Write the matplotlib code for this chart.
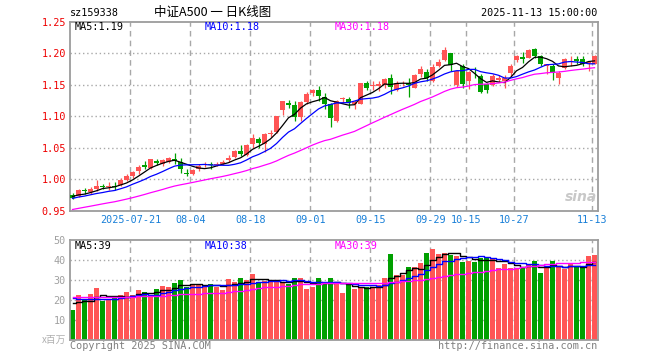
import numpy as np
import pandas as pd
import matplotlib
matplotlib.use('Agg')
import matplotlib.pyplot as plt

# 中证A500 ETF (sz159338) daily K line, 2025-07-07 .. 2025-11-13
dates = ['07-07', '07-08', '07-09', '07-10', '07-11', '07-14', '07-15', '07-16', '07-17', '07-18',
         '07-21', '07-22', '07-23', '07-24', '07-25', '07-28', '07-29', '07-30', '07-31', '08-01',
         '08-04', '08-05', '08-06', '08-07', '08-08', '08-11', '08-12', '08-13', '08-14', '08-15',
         '08-18', '08-19', '08-20', '08-21', '08-22', '08-25', '08-26', '08-27', '08-28', '08-29',
         '09-01', '09-02', '09-03', '09-04', '09-05', '09-08', '09-09', '09-10', '09-11', '09-12',
         '09-15', '09-16', '09-17', '09-18', '09-19', '09-22', '09-23', '09-24', '09-25', '09-26',
         '09-29', '09-30', '10-09', '10-10', '10-13', '10-14', '10-15', '10-16', '10-17', '10-20',
         '10-21', '10-22', '10-23', '10-24', '10-27', '10-28', '10-29', '10-30', '10-31', '11-03',
         '11-04', '11-05', '11-06', '11-07', '11-10', '11-11', '11-12', '11-13']

open_ = [0.9753, 0.9732, 0.9837, 0.9795, 0.9847, 0.9900, 0.9874, 0.9900, 0.9910, 0.9995,
         1.0060, 1.0130, 1.0226, 1.0190, 1.0294, 1.0242, 1.0280, 1.0320, 1.0280, 1.0105,
         1.0094, 1.0160, 1.0230, 1.0240, 1.0235, 1.0250, 1.0310, 1.0357, 1.0460, 1.0390,
         1.0557, 1.0650, 1.0557, 1.0715, 1.0757, 1.1109, 1.1210, 1.1185, 1.0985, 1.1230,
         1.1380, 1.1416, 1.1316, 1.1195, 1.0930, 1.1270, 1.1270, 1.1195, 1.1206, 1.1537,
         1.1490, 1.1490, 1.1500, 1.1616, 1.1420, 1.1510, 1.1537, 1.1460, 1.1668, 1.1710,
         1.1563, 1.1800, 1.1890, 1.2000, 1.1500, 1.1800, 1.1563, 1.1680, 1.1640, 1.1510,
         1.1495, 1.1584, 1.1563, 1.1684, 1.1890, 1.1947, 1.1931, 1.2073, 1.1957, 1.1805,
         1.1800, 1.1605, 1.1773, 1.1868, 1.1905, 1.1920, 1.1852, 1.1836]
high = [0.9780, 0.9847, 0.9858, 0.9884, 0.9995, 0.9926, 0.9953, 0.9953, 1.0016, 1.0084,
        1.0140, 1.0226, 1.0294, 1.0330, 1.0320, 1.0330, 1.0363, 1.0426, 1.0340, 1.0170,
        1.0160, 1.0240, 1.0280, 1.0280, 1.0270, 1.0310, 1.0390, 1.0470, 1.0540, 1.0560,
        1.0715, 1.0680, 1.0736, 1.0790, 1.1010, 1.1250, 1.1260, 1.1250, 1.1250, 1.1395,
        1.1440, 1.1490, 1.1380, 1.1220, 1.1260, 1.1310, 1.1310, 1.1260, 1.1526, 1.1560,
        1.1570, 1.1560, 1.1616, 1.1680, 1.1560, 1.1560, 1.1605, 1.1668, 1.1800, 1.1747,
        1.1840, 1.1905, 1.2105, 1.2000, 1.1737, 1.1826, 1.1720, 1.1780, 1.1668, 1.1537,
        1.1668, 1.1658, 1.1658, 1.1826, 1.1984, 1.2020, 1.2073, 1.2089, 1.1984, 1.1836,
        1.1826, 1.1720, 1.1930, 1.1957, 1.1957, 1.1957, 1.1870, 1.1980]
low = [0.9690, 0.9716, 0.9769, 0.9770, 0.9821, 0.9847, 0.9837, 0.9837, 0.9890, 0.9980,
       1.0016, 1.0084, 1.0163, 1.0174, 1.0237, 1.0216, 1.0258, 1.0242, 1.0100, 1.0050,
       1.0070, 1.0136, 1.0200, 1.0170, 1.0210, 1.0230, 1.0280, 1.0347, 1.0370, 1.0380,
       1.0494, 1.0500, 1.0440, 1.0680, 1.0740, 1.1030, 1.1140, 1.0930, 1.0930, 1.1195,
       1.1325, 1.1250, 1.1116, 1.0830, 1.0910, 1.1220, 1.1140, 1.1120, 1.1195, 1.1426,
       1.1426, 1.1405, 1.1458, 1.1350, 1.1405, 1.1480, 1.1310, 1.1450, 1.1630, 1.1560,
       1.1550, 1.1784, 1.1879, 1.1720, 1.1470, 1.1460, 1.1430, 1.1616, 1.1380, 1.1380,
       1.1484, 1.1550, 1.1447, 1.1640, 1.1868, 1.1852, 1.1921, 1.1931, 1.1800, 1.1670,
       1.1574, 1.1520, 1.1747, 1.1800, 1.1826, 1.1800, 1.1726, 1.1826]
close = [0.9711, 0.9837, 0.9810, 0.9847, 0.9900, 0.9884, 0.9900, 0.9884, 0.9995, 1.0060,
         1.0126, 1.0205, 1.0205, 1.0320, 1.0258, 1.0305, 1.0347, 1.0300, 1.0162, 1.0095,
         1.0147, 1.0210, 1.0250, 1.0225, 1.0245, 1.0280, 1.0335, 1.0460, 1.0400, 1.0540,
         1.0660, 1.0573, 1.0715, 1.0736, 1.1009, 1.1250, 1.1190, 1.0985, 1.1230, 1.1350,
         1.1415, 1.1320, 1.1195, 1.0970, 1.1240, 1.1290, 1.1210, 1.1225, 1.1526, 1.1447,
         1.1500, 1.1510, 1.1600, 1.1474, 1.1537, 1.1520, 1.1500, 1.1658, 1.1758, 1.1605,
         1.1784, 1.1863, 1.2050, 1.1810, 1.1720, 1.1520, 1.1705, 1.1668, 1.1395, 1.1420,
         1.1640, 1.1616, 1.1616, 1.1800, 1.1957, 1.1905, 1.2063, 1.1968, 1.1826, 1.1826,
         1.1695, 1.1695, 1.1905, 1.1884, 1.1880, 1.1826, 1.1868, 1.1957]
# volume, millions
volume = [15, 22.5, 20.5, 23, 26, 19.5, 20, 21.5, 22.5, 24,
          22.5, 25, 24, 22.5, 25.5, 27, 26.5, 28.5, 30, 26.5,
          27.5, 27.5, 27, 28, 26.5, 25, 30.5, 29, 31, 30,
          33, 29, 29.5, 29.5, 29, 29, 28, 31, 31, 25.5,
          26.5, 31, 28.5, 31, 28.5, 23.5, 27.5, 25.5, 26.5, 26.5,
          26.5, 27.5, 31, 43, 32.5, 32.5, 36.5, 36.5, 38.5, 43.5,
          45.5, 43, 43.5, 42.5, 42, 39, 39.5, 39, 41, 41,
          40.5, 36, 38, 36, 36, 36, 38, 39.5, 33.5, 36.5,
          39.5, 36.5, 35.5, 38, 36.7, 36.7, 42, 42.5]

# earlier sessions (June 2025), only used to warm up the moving averages
pre_close = [0.930, 0.928, 0.933, 0.936, 0.934, 0.938, 0.940, 0.937, 0.942, 0.944,
             0.946, 0.943, 0.948, 0.950, 0.952, 0.949, 0.953, 0.956, 0.955, 0.958,
             0.962, 0.966, 0.964, 0.970, 0.973, 0.971, 0.975, 0.972, 0.976]
pre_volume = [24, 19, 22, 26, 21, 18, 23, 20, 25, 22,
              19, 21, 24, 20, 22, 23, 19, 21, 24, 22,
              25, 22, 26, 23, 22.5, 20, 18, 21, 17.5]

tick_labels = ['2025-07-21', '08-04', '08-18', '09-01', '09-15', '09-29', '10-15', '10-27', '11-13']

RED = '#ff5555'
GREEN = '#00a000'
GRID = '#a8a8a8'
FRAME = '#9c9c9c'
MONO = 'DejaVu Sans Mono'
CJK = ['Noto Sans CJK SC', 'DejaVu Sans']

n = len(close)
x = np.arange(n)
o = np.array(open_)
c = np.array(close)
up = c >= o
colors = [RED if u else GREEN for u in up]

cs = pd.Series(pre_close + close)
vs = pd.Series(pre_volume + volume)
ma = {k: cs.rolling(k, min_periods=1).mean().values[-n:] for k in (5, 10, 30)}
vma = {k: vs.rolling(k, min_periods=1).mean().values[-n:] for k in (5, 10, 30)}
ma_colors = {5: 'black', 10: '#0000ff', 30: '#ff00ff'}

W, H = 660, 360
fig = plt.figure(figsize=(6.6, 3.6), dpi=100)


def fx(px):
    return px / W


def fy(py):
    return 1 - py / H


ax = fig.add_axes([fx(70), fy(211), (598 - 70) / W, (211 - 22) / H])
axv = fig.add_axes([fx(70), fy(340), (598 - 70) / W, (340 - 240) / H])

tick_idx = [dates.index(t[-5:]) for t in tick_labels]
tick_x = [i - 0.35 for i in tick_idx]
xmin, xmax = -0.42, n - 1 + 0.58

for a in (ax, axv):
    a.set_xlim(xmin, xmax)
    for s in a.spines.values():
        s.set_color(FRAME)
        s.set_linewidth(1.3)
    a.vlines(tick_x, 0, 1, transform=a.get_xaxis_transform(), colors=GRID,
             linestyles=(0, (4, 3)), lw=1, zorder=0)

# price panel
ax.set_ylim(0.95, 1.25)
yt = [0.95, 1.00, 1.05, 1.10, 1.15, 1.20, 1.25]
ax.set_yticks(yt)
ax.set_yticklabels([f'{v:.2f}' for v in yt], color='#ee0000', family=MONO, fontsize=7.3)
ax.hlines(yt[1:-1], xmin, xmax, colors=GRID, linestyles=(0, (1, 2)), lw=1, zorder=0)
ax.set_xticks(tick_x)
ax.set_xticklabels(tick_labels, color='#1a80d8', family=MONO, fontsize=7.3)
ax.tick_params(length=0, pad=3)

body = np.maximum(np.abs(c - o), 0.0012)
ax.vlines(x, low, high, colors=colors, lw=0.9, zorder=2)
ax.bar(x, body, bottom=np.minimum(o, c), width=0.8, color=colors, zorder=3)
for k in (5, 10, 30):
    ax.plot(x, ma[k], color=ma_colors[k], lw=0.9, zorder=4)

# volume panel
axv.set_ylim(0, 50)
vt = [10, 20, 30, 40, 50]
axv.set_yticks(vt)
axv.set_yticklabels([str(v) for v in vt], color='#a0a0a0', family=MONO, fontsize=7.3)
axv.hlines(vt[:-1], xmin, xmax, colors=GRID, linestyles=(0, (1, 2)), lw=1, zorder=0)
axv.set_xticks([])
axv.tick_params(length=0, pad=3)
axv.bar(x, volume, width=0.8, color=colors, zorder=2)
for k in (5, 10, 30):
    axv.plot(x, vma[k], color=ma_colors[k], lw=1, drawstyle='steps-mid', zorder=4)

# header and legends
fig.text(fx(70), fy(13), 'sz159338', family=MONO, fontsize=7.3, va='center')
fig.text(fx(213), fy(12), '中证A500 一 日K线图', family=CJK, fontsize=9, ha='center', va='center')
fig.text(fx(597), fy(13), '2025-11-13 15:00:00', family=MONO, fontsize=7.3, ha='right', va='center')

lx = [75, 205, 335]
for px, k in zip(lx, (5, 10, 30)):
    fig.text(fx(px), fy(27), f'MA{k}:{ma[k][-1]:.2f}', color=ma_colors[k],
             family=MONO, fontsize=7.3, va='center')
    fig.text(fx(px), fy(246), f'MA{k}:{vma[k][-1]:.0f}', color=ma_colors[k],
             family=MONO, fontsize=7.3, va='center')

fig.text(fx(66), fy(340), 'x百万', color='#b0b0b0', family=CJK, fontsize=7, ha='right', va='center')
fig.text(fx(70), fy(346), 'Copyright 2025 SINA.COM', color='#808080', family=MONO, fontsize=7.3, va='center')
fig.text(fx(597), fy(346), 'http://finance.sina.com.cn', color='#808080', family=MONO,
         fontsize=7.3, ha='right', va='center')
fig.text(fx(597), fy(197), 'sina', color='#c8c8c8', fontsize=10, fontweight='bold',
         style='italic', ha='right', va='center')

plt.savefig('out.png', dpi=100)
